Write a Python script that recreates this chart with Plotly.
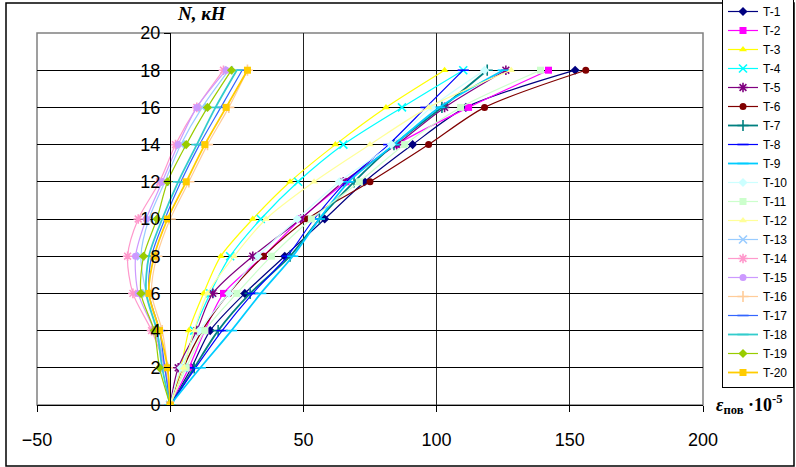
import plotly.graph_objects as go

# Load levels N, kN
loads = [0, 2, 4, 6, 8, 10, 12, 14, 16, 18]

series_names = ["T-1", "T-2", "T-3", "T-4", "T-5", "T-6", "T-7", "T-8", "T-9", "T-10",
                "T-11", "T-12", "T-13", "T-14", "T-15", "T-16", "T-17", "T-18", "T-19", "T-20"]

# strain values (x 10^-5) at each load level
t1 = [0, 8, 15, 28, 43, 58, 73, 91, 111, 152]
t2 = [0, 7, 13, 20, 35, 49, 66, 85, 112, 142]
t3 = [0, 4, 7, 12.5, 19, 31, 45, 62, 81, 103]
t4 = [0, 5, 9, 15, 22.5, 34, 48, 65, 87, 110]
t5 = [0, 3, 10, 16, 31, 49, 65, 85, 103, 126]
t6 = [0, 5, 12, 22, 35, 51.5, 75, 97, 118, 156]
t7 = [0, 9, 18, 30, 45, 56, 69, 84, 102, 119]
t8 = [0, 9.5, 19.5, 31, 44, 54, 66, 82, 96, 110]
t9 = [0, 11.3, 23, 34, 46, 56, 67, 84, 101, 125]
t10 = [0, 4, 11, 22, 33, 47.7, 63.5, 83, 98, 118]
t11 = [0, 6, 13, 25, 38, 53, 71, 88, 109, 139]
t12 = [0, 5, 9, 14, 24, 36, 54, 75, 97, 128]
t13 = [0, -2, -5, -9, -11, -8, -2, 4, 12, 22]
t14 = [0, -2, -7, -14, -16, -12, -4, 2, 10, 20]
t15 = [0, -2, -6, -12, -13, -9, -3, 3, 10, 21]
t16 = [0, -1, -3, -7, -5, 0, 7, 14, 22, 29]
t17 = [0, -2, -4, -8, -7, -2, 4, 11, 19, 27]
t18 = [0, -3, -5, -9, -8, -3, 3, 10, 17, 25]
t19 = [0, -4, -6, -11, -10, -5, -1, 6, 14, 23]
t20 = [0, -1, -4, -8, -6, -1, 6, 13, 21, 29]

values = [t1, t2, t3, t4, t5, t6, t7, t8, t9, t10,
          t11, t12, t13, t14, t15, t16, t17, t18, t19, t20]

colors = ["#000080", "#FF00FF", "#FFFF00", "#00FFFF", "#800080", "#800000", "#008080",
          "#0000FF", "#00CCFF", "#CCFFFF", "#CCFFCC", "#FFFF99", "#99CCFF", "#FF99CC",
          "#CC99FF", "#FFCC99", "#3366FF", "#33CCCC", "#99CC00", "#FFCC00"]
symbols = ["diamond", "square", "triangle-up", "x-thin-open", "asterisk-open", "circle",
           "cross-thin-open", "line-ew-open", "line-ew-open", "diamond", "square",
           "triangle-up", "x-thin-open", "asterisk-open", "circle", "cross-thin-open",
           "line-ew-open", "line-ew-open", "diamond", "square"]
widths = [1.2, 1.2, 1.2, 1.2, 1.2, 1.2, 1.8, 1.2, 1.8, 1.2,
          1.2, 1.2, 1.2, 1.2, 1.2, 1.2, 1.2, 1.8, 1.2, 1.8]

fig = go.Figure()
for name, vals, col, sym, lw in zip(series_names, values, colors, symbols, widths):
    thin = sym.endswith("open")
    fig.add_trace(go.Scatter(
        x=vals, y=loads, name=name, mode="lines+markers",
        line=dict(color=col, width=lw, shape="spline", smoothing=0.8),
        marker=dict(symbol=sym, color=col, size=8 if thin else 7,
                    line=dict(color=col, width=1.6 if thin else 0)),
    ))

W, H = 796, 467
L, R, T, B = 37, 93, 33, 62
pw, ph = W - L - R, H - T - B

def px_x(p):
    return (p - L) / pw

def px_y(p):
    return (H - B - p) / ph

fig.update_layout(
    width=W, height=H,
    margin=dict(l=L, r=R, t=T, b=B, autoexpand=False),
    paper_bgcolor="white", plot_bgcolor="white",
    font=dict(family="Liberation Sans, Arial", color="black"),
    showlegend=True,
    legend=dict(x=px_x(722), y=px_y(-4), xanchor="left", yanchor="top",
                bordercolor="black", borderwidth=1, bgcolor="white",
                font=dict(size=12, family="Liberation Sans, Arial"),
                itemwidth=30, tracegroupgap=0, maxheight=440),
    xaxis=dict(range=[-50, 200], dtick=50, tick0=-50, showgrid=True, gridcolor="#222222",
               gridwidth=1, zeroline=False, showline=True, linecolor="black",
               ticks="outside", ticklen=6, tickcolor="black",
               tickfont=dict(size=18), ticklabelstandoff=12),
    yaxis=dict(range=[0, 20], dtick=2, showgrid=True, gridcolor="black", gridwidth=1,
               zeroline=False, showline=True, linecolor="black",
               anchor="free", position=px_x(170), ticks="outside", ticklen=6,
               tickcolor="black", tickfont=dict(size=18)),
    shapes=[
        dict(type="rect", xref="paper", yref="paper", x0=0, x1=1, y0=0, y1=1,
             line=dict(color="#808080", width=1.5), layer="below"),
        dict(type="rect", xref="paper", yref="paper", x0=px_x(6), x1=px_x(794),
             y0=px_y(466), y1=px_y(3), line=dict(color="black", width=1.5)),
    ],
    annotations=[
        dict(text="<b><i>N, кН</i></b>", xref="paper", yref="paper",
             x=px_x(175), y=px_y(13), xanchor="left", yanchor="middle",
             showarrow=False, font=dict(family="Liberation Serif", size=19)),
        dict(text="<b><i>ε</i><sub>пов</sub> ·10<sup>-5</sup></b>", xref="paper", yref="paper",
             x=px_x(714), y=px_y(404), xanchor="left", yanchor="middle",
             showarrow=False, font=dict(family="Liberation Serif", size=18)),
    ],
)

fig.write_html("out.html", config={"displayModeBar": False},
               post_script="document.body.style.margin='0';document.body.style.overflow='hidden';")
